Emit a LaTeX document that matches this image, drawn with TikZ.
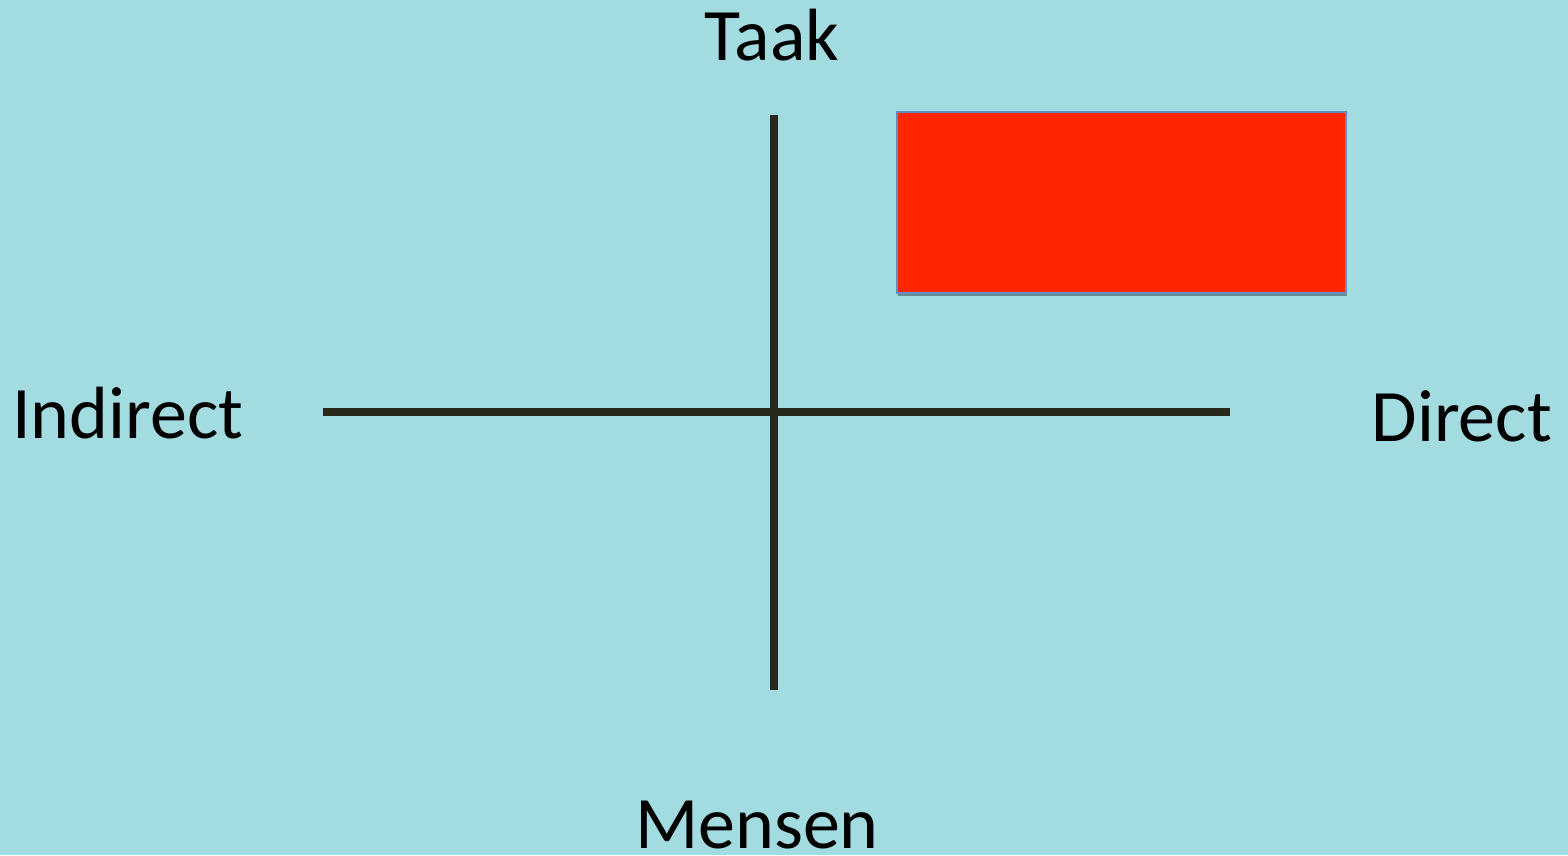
\documentclass[tikz,border=0pt]{standalone}
\usepackage{fontspec}
\setmainfont{Carlito}
\usetikzlibrary{shadows}
\definecolor{bg}{HTML}{A2DBE0}
\definecolor{axis}{HTML}{29281C}
\definecolor{boxred}{HTML}{FF2600}
\definecolor{boxedge}{HTML}{5B8FC5}
\begin{document}
\begin{tikzpicture}[x=1pt,y=-1pt,
  lbl/.style={font=\fontsize{74}{80}\selectfont, inner sep=0pt, text=black},
  axisline/.style={draw=axis, line width=8pt}]
\fill[bg] (0,0) rectangle (1568,855);
\useasboundingbox (0,0) rectangle (1568,855);
\node[lbl, anchor=base] (taak) at (772,60) {Taak};
\node[lbl, anchor=base west] (indirect) at (12,438) {Indirect};
\node[lbl, anchor=base east] (direct) at (1552,441) {Direct};
\node[lbl, anchor=base] (mensen) at (757,848) {Mensen};
\coordinate (top) at (774,115);
\coordinate (bottom) at (774,690);
\coordinate (left) at (323,412);
\coordinate (right) at (1230,412);
\draw[axisline] (top) -- (bottom);
\draw[axisline] (left) -- (right);
\node[draw=boxedge, line width=1.5pt, fill=boxred, minimum width=449pt, minimum height=181pt, inner sep=0pt,
  drop shadow={shadow xshift=1.5pt, shadow yshift=-3pt, opacity=0.35, fill=black}, anchor=north west] (box) at (896,111) {};
\end{tikzpicture}
\end{document}
